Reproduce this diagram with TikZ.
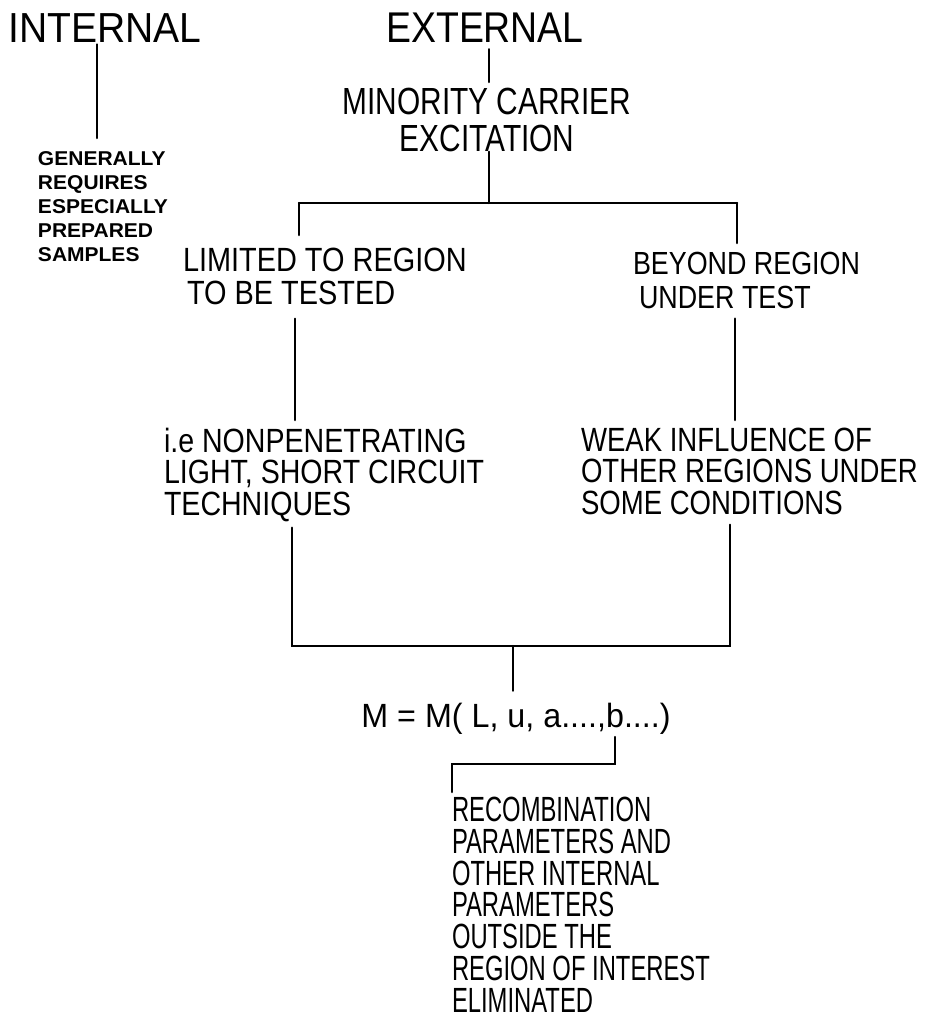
\documentclass[tikz,border=0pt]{standalone}
\usepackage{fontspec}
\setmainfont{Liberation Sans}
\newcommand\LFont[3]{\fontsize{#1}{#2}\selectfont\addfontfeatures{FakeStretch=#3}}
\begin{document}
\begin{tikzpicture}[x=0.5pt,y=-0.5pt,
  lbl/.style={inner sep=0pt, outer sep=0pt},
  link/.style={line width=1.25pt, line cap=round, line join=miter}]
\useasboundingbox (0,0) rectangle (925,1018);

% top headings
\node[lbl, font=\LFont{21pt}{21pt}{0.93}] (int) at (105,28) {INTERNAL};
\node[lbl, font=\LFont{21.5pt}{21pt}{0.87}] (ext) at (485,27.5) {EXTERNAL};

\node[lbl, anchor=north west, align=left, font=\bfseries\LFont{10pt}{11.9pt}{1.05}] (gen) at (38,152)
  {GENERALLY\\REQUIRES\\ESPECIALLY\\PREPARED\\SAMPLES};

\node[lbl, anchor=north, align=center, font=\LFont{18.9pt}{18.5pt}{0.79}] (min) at (487,88)
  {MINORITY CARRIER\\EXCITATION};

\node[lbl, anchor=north west, align=left, font=\LFont{16.8pt}{16.5pt}{0.86}] (lim) at (183,248)
  {LIMITED TO REGION\\\hspace*{2pt}TO BE TESTED};
\node[lbl, anchor=north west, align=left, font=\LFont{16pt}{17pt}{0.84}] (bey) at (633,252)
  {BEYOND REGION\\\hspace*{3pt}UNDER TEST};

\node[lbl, anchor=north west, align=left, font=\LFont{16.8pt}{15.75pt}{0.85}] (ie) at (164,428)
  {i.e NONPENETRATING\\LIGHT, SHORT CIRCUIT\\TECHNIQUES};
\node[lbl, anchor=north west, align=left, font=\LFont{16.8pt}{15.75pt}{0.82}] (weak) at (581,428)
  {WEAK INFLUENCE OF\\OTHER REGIONS UNDER\\SOME CONDITIONS};

\node[lbl, anchor=base, font=\LFont{16.8pt}{16pt}{0.96}] (eq) at (516,727)
  {M = M( L, u, a....,b....)};

\node[lbl, anchor=north west, align=left, font=\LFont{17.5pt}{15.9pt}{0.68}] (rec) at (452,797)
  {RECOMBINATION\\PARAMETERS AND\\OTHER INTERNAL\\PARAMETERS\\OUTSIDE THE\\REGION OF INTEREST\\ELIMINATED};

% helper coordinates
\coordinate (xi) at (97,0);
\coordinate (xe) at (489,0);
\coordinate (xl1) at (299,0);
\coordinate (xl2) at (295,0);
\coordinate (xl3) at (292,0);
\coordinate (xr1) at (737,0);
\coordinate (xr2) at (735,0);
\coordinate (xr3) at (730,0);
\coordinate (top) at (0,203);
\coordinate (bot) at (0,646);
\coordinate (xm) at (513,0);
\coordinate (bpt) at (615,737);
\coordinate (brk) at (0,764);
\coordinate (xrec) at (452,0);

% connectors
\draw[link] ([yshift=-1pt]int.south -| xi) -- ([yshift=7pt]gen.north -| xi);
\draw[link] ([yshift=-3.5pt]ext.south -| xe) -- ([yshift=3pt]min.north -| xe);
\draw[link] (min.south -| xe) -- (top -| xe);
\draw[link] (top -| xl1) -- (top -| xr1);
\draw[link] (top -| xl1) -- ([yshift=6.5pt]lim.north -| xl1);
\draw[link] (top -| xr1) -- ([yshift=4.5pt]bey.north -| xr1);
\draw[link] ([yshift=-7pt]lim.south -| xl2) -- ([yshift=4pt]ie.north -| xl2);
\draw[link] ([yshift=-5pt]bey.south -| xr2) -- ([yshift=4pt]weak.north -| xr2);
\draw[link] ([yshift=-3pt]ie.south -| xl3) -- (bot -| xl3) -- (bot -| xr3) -- ([yshift=-5pt]weak.south -| xr3);
\draw[link] (bot -| xm) -- ([yshift=6pt]eq.north -| xm);
\draw[link] (bpt) -- (brk -| bpt) -- (brk -| xrec) -- ([yshift=2.5pt]rec.north -| xrec);
\end{tikzpicture}
\end{document}
